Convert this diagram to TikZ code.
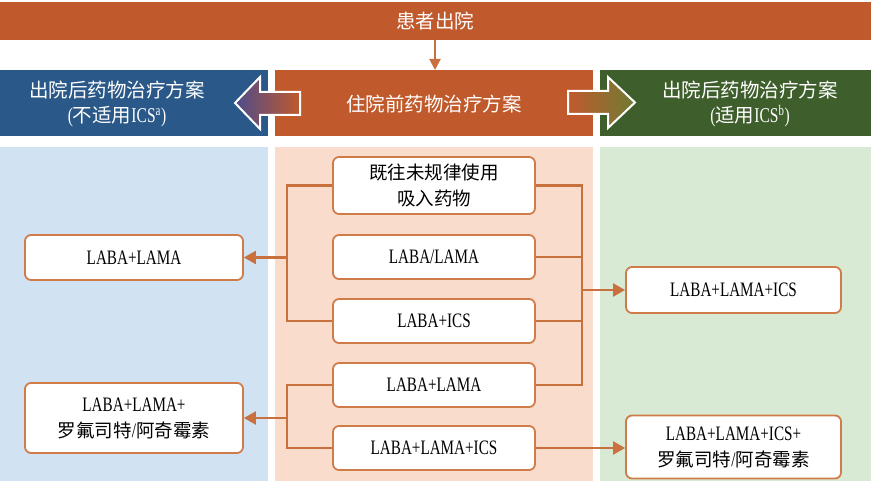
\documentclass[tikz,border=0pt]{standalone}
\usepackage{fontspec}
\setmainfont{Liberation Serif}
\newfontfamily\cjk{Noto Sans CJK SC}
\newfontfamily\lat[FakeStretch=0.74]{Liberation Serif}
\usetikzlibrary{arrows.meta}
\definecolor{bannerc}{HTML}{C05A2C}
\definecolor{hblue}{HTML}{2A5888}
\definecolor{hgreen}{HTML}{3E5E2C}
\definecolor{pblue}{HTML}{D1E2F2}
\definecolor{ppeach}{HTML}{F9DCCC}
\definecolor{pgreen}{HTML}{D8EAD3}
\definecolor{boxline}{HTML}{D07C48}
\definecolor{connc}{HTML}{C8703E}
\definecolor{arrpurple}{HTML}{4E4C8C}
\definecolor{arrolive}{HTML}{6E7C34}
\begin{document}
\begin{tikzpicture}[x=1pt,y=-1pt,
  box/.style={draw=boxline, line width=1.8pt, fill=white, rounded corners=6pt,
    align=center, inner sep=0pt, font=\lat\fontsize{20.5}{26}\selectfont},
  conn/.style={draw=connc, line width=2.2pt},
  arr/.style={conn, -{Triangle[length=12pt,width=13pt]}},
  head/.style={align=center, text=white, font=\cjk\fontsize{19.5}{25}\selectfont},
  bigarrow/.style={draw=white, line width=2pt, line join=miter}
]
\useasboundingbox (0,0) rectangle (871,481);
% banner
\fill[bannerc] (0,2) rectangle (871,40);
\node[head] (banner) at (435,21) {患者出院};
% header row
\fill[hblue] (0,70) rectangle (268,136);
\fill[bannerc] (275,70) rectangle (593,136);
\fill[hgreen] (600,70) rectangle (871,136);
\coordinate (bannerbot) at (435,40);
\coordinate (midtop) at (435,70);
\draw[conn, line width=2pt, -{Triangle[length=11pt,width=11pt]}] (bannerbot) -- (midtop);
% big arrows
\draw[bigarrow, left color=arrpurple, right color=bannerc]
  (235,103) -- (260,77) -- (260,92) -- (300,92) -- (300,115) -- (260,115) -- (260,129) -- cycle;
\draw[bigarrow, left color=bannerc, right color=arrolive]
  (568,91) -- (608,91) -- (608,77) -- (635,102.5) -- (608,128) -- (608,114) -- (568,114) -- cycle;
\node[head] (hl) at (117,104) {出院后药物治疗方案\\{\lat\fontsize{21}{25}\selectfont(}不适用{\lat\fontsize{21}{25}\selectfont ICS\textsuperscript{a})}};
\node[head] (hm) at (434,104) {住院前药物治疗方案};
\node[head] (hr) at (750,104) {出院后药物治疗方案\\{\lat\fontsize{21}{25}\selectfont(}适用{\lat\fontsize{21}{25}\selectfont ICS\textsuperscript{b})}};
% panels
\fill[pblue] (0,147) rectangle (268,481);
\fill[ppeach] (275,147) rectangle (593,481);
\fill[pgreen] (600,147) rectangle (871,481);
% middle boxes
\node[box, minimum width=202pt, minimum height=57pt] (m1) at (434,185.5) {{\cjk\fontsize{18.5}{26}\selectfont 既往未规律使用}\\{\cjk\fontsize{18.5}{26}\selectfont 吸入药物}};
\node[box, minimum width=202pt, minimum height=44pt] (m2) at (434,257) {LABA/LAMA};
\node[box, minimum width=202pt, minimum height=44pt] (m3) at (434,321) {LABA+ICS};
\node[box, minimum width=202pt, minimum height=44pt] (m4) at (434,385) {LABA+LAMA};
\node[box, minimum width=202pt, minimum height=44pt] (m5) at (434,448) {LABA+LAMA+ICS};
% left boxes
\node[box, minimum width=218pt, minimum height=45pt] (l1) at (134,257.5) {LABA+LAMA};
\node[box, minimum width=218pt, minimum height=70pt] (l2) at (134,418) {LABA+LAMA+\\{\cjk\fontsize{18.5}{26}\selectfont 罗氟司特}/{\cjk\fontsize{18.5}{26}\selectfont 阿奇霉素}};
% right boxes
\node[box, minimum width=215pt, minimum height=46pt] (r1) at (733.5,290) {LABA+LAMA+ICS};
\node[box, minimum width=215pt, minimum height=63pt] (r2) at (733.5,447) {LABA+LAMA+ICS+\\{\cjk\fontsize{18.5}{26}\selectfont 罗氟司特}/{\cjk\fontsize{18.5}{26}\selectfont 阿奇霉素}};
% connectors
\coordinate (lbA) at (287,257.5);
\coordinate (lbB) at (287,418);
\coordinate (rbB) at (582,385);
\draw[conn] (m1.west) -| (lbA) |- (m3.west);
\draw[arr] (lbA) -- (l1.east);
\draw[conn] (m4.west) -| (lbB) |- (m5.west);
\draw[arr] (lbB) -- (l2.east);
\draw[conn] (m1.east) -| (rbB) -- (m4.east);
\draw[conn] (m2.east) -- (m2.east -| rbB);
\draw[conn] (m3.east) -- (m3.east -| rbB);
\draw[arr] (rbB |- r1.west) -- (r1.west);
\draw[arr] (m5.east) -- (m5.east -| r2.west);
\end{tikzpicture}
\end{document}
